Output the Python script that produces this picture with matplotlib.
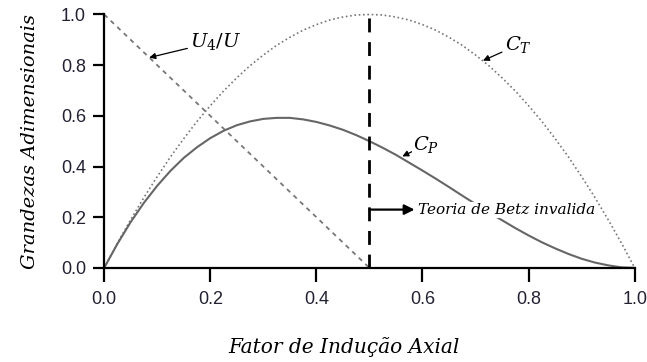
import matplotlib.pyplot as plt

# fator de indução axial
a = [0.0, 0.025, 0.05, 0.075, 0.10, 0.125, 0.15, 0.175, 0.20, 0.225,
     0.25, 0.275, 0.30, 0.325, 0.35, 0.375, 0.40, 0.425, 0.45, 0.475,
     0.50, 0.525, 0.55, 0.575, 0.60, 0.625, 0.65, 0.675, 0.70, 0.725,
     0.75, 0.775, 0.80, 0.825, 0.85, 0.875, 0.90, 0.925, 0.95, 0.975, 1.0]
# coeficiente de empuxo
ct = [0.0, 0.098, 0.190, 0.278, 0.360, 0.438, 0.510, 0.578, 0.640, 0.698,
      0.750, 0.798, 0.840, 0.878, 0.910, 0.938, 0.960, 0.978, 0.990, 0.998,
      1.000, 0.998, 0.990, 0.978, 0.960, 0.938, 0.910, 0.878, 0.840, 0.798,
      0.750, 0.698, 0.640, 0.578, 0.510, 0.438, 0.360, 0.278, 0.190, 0.098, 0.0]
# coeficiente de potência
cp = [0.0, 0.095, 0.181, 0.257, 0.324, 0.383, 0.434, 0.476, 0.512, 0.541,
      0.563, 0.578, 0.588, 0.592, 0.592, 0.586, 0.576, 0.562, 0.545, 0.524,
      0.500, 0.474, 0.446, 0.415, 0.384, 0.352, 0.319, 0.285, 0.252, 0.219,
      0.188, 0.157, 0.128, 0.101, 0.077, 0.055, 0.036, 0.021, 0.010, 0.002, 0.0]
# velocidade na esteira
u_a = [0.0, 0.5]
u4 = [1.0, 0.0]

x_ticks = [0.0, 0.2, 0.4, 0.6, 0.8, 1.0]
y_ticks = [0.0, 0.2, 0.4, 0.6, 0.8, 1.0]
a_betz = 0.5

plt.rcParams["mathtext.fontset"] = "dejavuserif"
serif_it = dict(family="DejaVu Serif", style="italic")

fig = plt.figure(figsize=(6.47, 3.62), dpi=100)
ax = fig.add_axes([0.161, 0.26, 0.82, 0.70])

ax.plot(u_a, u4, color="#777777", lw=1.3, ls=(0, (2.5, 2.5)))
ax.plot(a, ct, color="#777777", lw=1.2, ls=(0, (1, 1.6)))
ax.plot(a, cp, color="#666666", lw=1.5)
ax.plot([a_betz, a_betz], [0, 1.0], color="black", lw=2, ls=(0, (5, 3.5)))

arrow = dict(arrowstyle="-|>", color="black", lw=0.9, mutation_scale=9,
             shrinkA=0, shrinkB=0)
ax.annotate(r"$U_4/U$", xy=(0.085, 0.83), xytext=(0.162, 0.893),
            fontsize=14, color="black", arrowprops=arrow, va="center")
ax.annotate(r"$C_T$", xy=(0.714, 0.818), xytext=(0.755, 0.88),
            fontsize=14, color="black", arrowprops=arrow, va="center")
ax.annotate(r"$C_P$", xy=(0.562, 0.44), xytext=(0.582, 0.486),
            fontsize=14, color="black", arrowprops=arrow, va="center",
            bbox=dict(fc="white", ec="none", pad=0.5))

ax.annotate("", xy=(0.585, 0.23), xytext=(a_betz, 0.23),
            arrowprops=dict(arrowstyle="-|>", color="black", lw=1.6,
                            mutation_scale=15, shrinkA=0, shrinkB=0))
ax.text(0.592, 0.228, "Teoria de Betz invalida", fontsize=11, va="center",
        bbox=dict(fc="white", ec="none", pad=0.5), zorder=5, **serif_it)

ax.set_xlim(0, 1.0)
ax.set_ylim(0, 1.0)
ax.set_xticks(x_ticks)
ax.set_yticks(y_ticks)
ax.set_xticklabels([f"{v:.1f}" for v in x_ticks], fontfamily="Liberation Sans")
ax.set_yticklabels([f"{v:.1f}" for v in y_ticks], fontfamily="Liberation Sans")
ax.set_xlabel("Fator de Indução Axial", fontsize=14.5, va="center", **serif_it)
ax.set_ylabel("Grandezas Adimensionais", fontsize=14, va="center", **serif_it)
ax.xaxis.set_label_coords(0.452, -0.312)
ax.yaxis.set_label_coords(-0.14, 0.5)

for side in ["top", "right"]:
    ax.spines[side].set_visible(False)
for side in ["left", "bottom"]:
    ax.spines[side].set_linewidth(1.6)
ax.tick_params(direction="out", width=1.6, labelsize=13,
               colors="black", labelcolor="#222233")
ax.tick_params(axis="x", length=10, pad=7)
ax.tick_params(axis="y", length=8, pad=5)

for ln in ax.lines:
    ln.set_clip_on(False)

fig.savefig("out.png", dpi=100)
